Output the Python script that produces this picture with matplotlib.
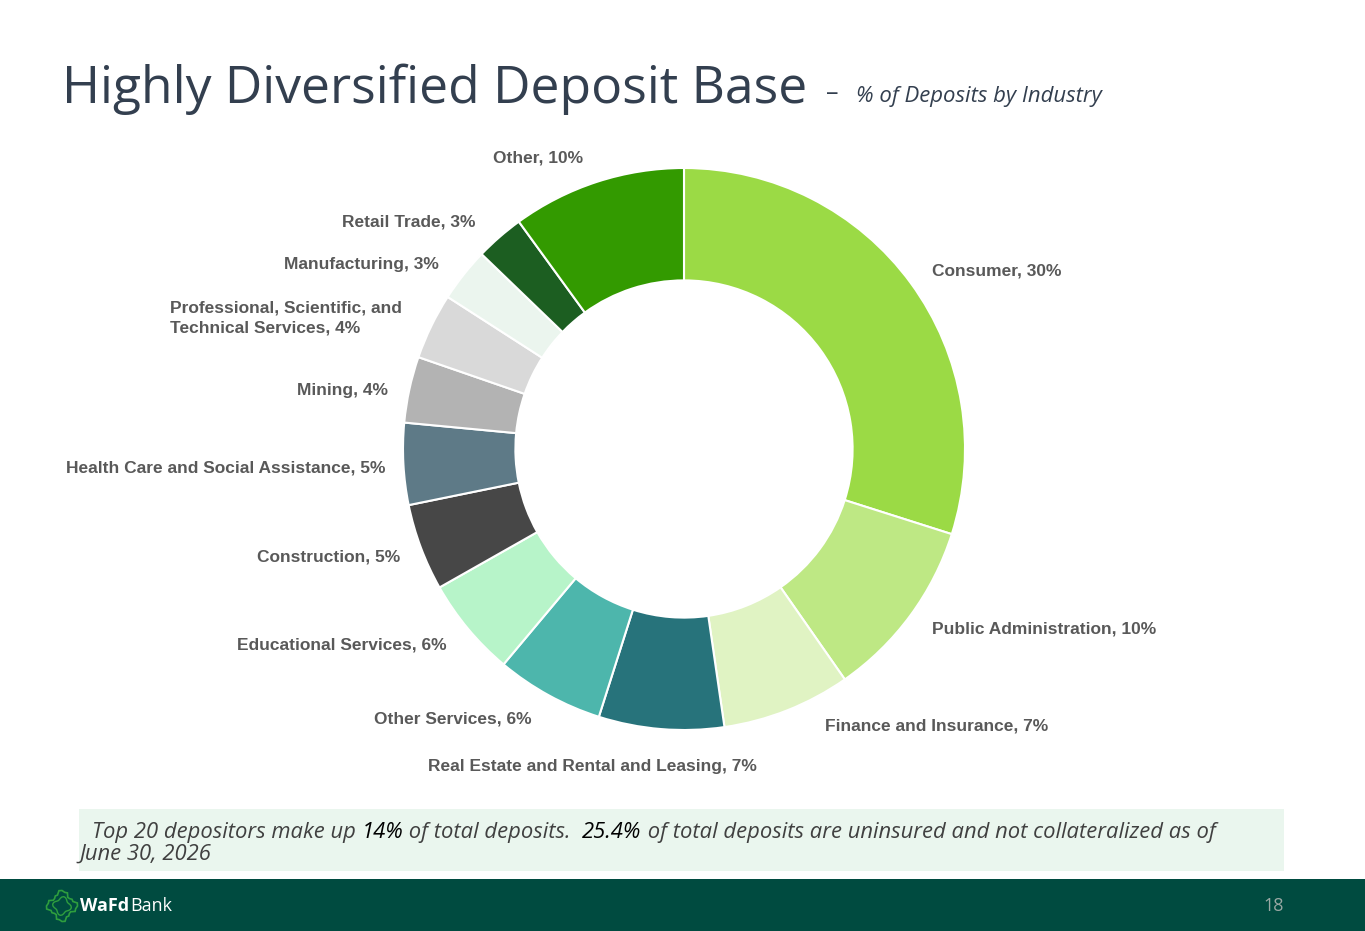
import matplotlib
matplotlib.use("Agg")
import matplotlib.pyplot as plt
from matplotlib.patches import Rectangle, Polygon
import numpy as np

# ---- data ----
categories = ["Consumer", "Public Administration", "Finance and Insurance",
              "Real Estate and Rental and Leasing", "Other Services",
              "Educational Services", "Construction",
              "Health Care and Social Assistance", "Mining",
              "Professional, Scientific, and\nTechnical Services",
              "Manufacturing", "Retail Trade", "Other"]
values = [29.9, 10.4, 7.4, 7.2, 6.2, 5.7, 5.0, 4.7, 3.8, 3.8, 3.1, 2.8, 10.0]
label_pct = [30, 10, 7, 7, 6, 6, 5, 5, 4, 4, 3, 3, 10]
colors = ["#9BDA45", "#BEE884", "#E0F3C3", "#27737B", "#4DB6AC", "#B7F4C9",
          "#474747", "#5E7A87", "#B3B3B3", "#D9D9D9", "#EBF5EE", "#1C5E21",
          "#339A00"]

# label layout (pixel coords, top-origin) and alignment
label_pos = [(932, 271, "left"), (932, 629, "left"), (825, 726, "left"),
             (592, 766, "center"), (532, 719, "right"), (447, 645, "right"),
             (400, 557, "right"), (385, 468, "right"), (388, 390, "right"),
             (170, 318, "left"), (439, 264, "right"), (476, 222, "right"),
             (538, 158, "center")]

W, H = 1365, 931
fig = plt.figure(figsize=(W / 100, H / 100), dpi=100)
ax = fig.add_axes([0, 0, 1, 1])

# donut
cx, cy, R = 684, 449, 281
ax.pie(values, colors=colors, startangle=90, counterclock=False,
       center=(cx, H - cy), radius=R,
       wedgeprops=dict(width=R * 0.40, edgecolor="white", linewidth=1.5),
       frame=True)
ax.set_xlim(0, W)
ax.set_ylim(0, H)
ax.set_aspect("equal")
ax.axis("off")

lab_font = dict(family=["Liberation Sans", "DejaVu Sans"], fontsize=12.5,
                fontweight="bold", color="#595959")
for cat, p, (x, y, ha) in zip(categories, label_pct, label_pos):
    ax.text(x, H - y, f"{cat}, {p}%", ha=ha, va="center",
            linespacing=1.45, **lab_font)

# title
ax.text(62, H - 103, "Highly Diversified Deposit Base", family="Open Sans",
        fontsize=37.2, color="#333F4F", va="baseline", ha="left")
ax.text(826, H - 100, "–", family="Open Sans", fontsize=18,
        color="#333F4F", va="baseline", ha="left")
ax.text(856, H - 102, "% of Deposits by Industry", family="Open Sans",
        fontsize=15.9, style="italic", color="#333F4F", va="baseline",
        ha="left")

# note box
ax.add_patch(Rectangle((79, H - 871), 1205, 62, facecolor="#EAF6EE",
                       edgecolor="none"))
segs = [("Top 20 depositors make up ", "#404040"), ("14%", "#000000"),
        (" of total deposits.  ", "#404040"), ("25.4%", "#000000"),
        (" of total deposits are uninsured and not collateralized as of",
         "#404040")]
fig.canvas.draw()
r = fig.canvas.get_renderer()
note_fs = 15.8
note_kw = dict(family="Open Sans", style="italic", fontsize=note_fs)


def text_w(s):
    t = ax.text(0, 0, s, **note_kw)
    w = t.get_window_extent(renderer=r).width
    t.remove()
    return w


bar_w = text_w("|")
prefix = ""
for s, c in segs:
    off = text_w(prefix + "|") - bar_w if prefix else 0
    ax.text(92 + off, H - 838, s, color=c, va="baseline", ha="left",
            **note_kw)
    prefix += s
ax.text(79, H - 860, "June 30, 2026", color="#404040", va="baseline",
        ha="left", **note_kw)

# footer bar
ax.add_patch(Rectangle((0, 0), W, H - 879, facecolor="#004B40",
                       edgecolor="none"))
ax.text(1284, H - 906, "18", family="Open Sans", fontsize=13,
        color="#9AA8A4", va="center", ha="right")

# logo icon
ang = np.linspace(0, 2 * np.pi, 33)
rr = 13 + 2.5 * np.cos(4 * ang) + 1.2 * np.sin(12 * ang)
pts = np.column_stack([62 + rr * np.cos(ang), H - 906 + rr * np.sin(ang)])
ax.add_patch(Polygon(pts, closed=True, facecolor="none", edgecolor="#2E9E3E",
                     linewidth=1.2))
rr2 = 8 + 1.5 * np.cos(4 * ang + 0.8)
pts2 = np.column_stack([62 + rr2 * np.cos(ang), H - 906 + rr2 * np.sin(ang)])
ax.add_patch(Polygon(pts2, closed=True, facecolor="none", edgecolor="#2E9E3E",
                     linewidth=1.0))
t = ax.text(80, H - 906, "WaFd", family="Open Sans", fontweight="bold",
            fontsize=13, color="white", va="center", ha="left")
bb = t.get_window_extent(renderer=r)
ax.text(80 + bb.width + 1, H - 906, "Bank", family="Open Sans",
        fontsize=13, color="white", va="center", ha="left")

fig.savefig("out.png", dpi=100, facecolor="white")
